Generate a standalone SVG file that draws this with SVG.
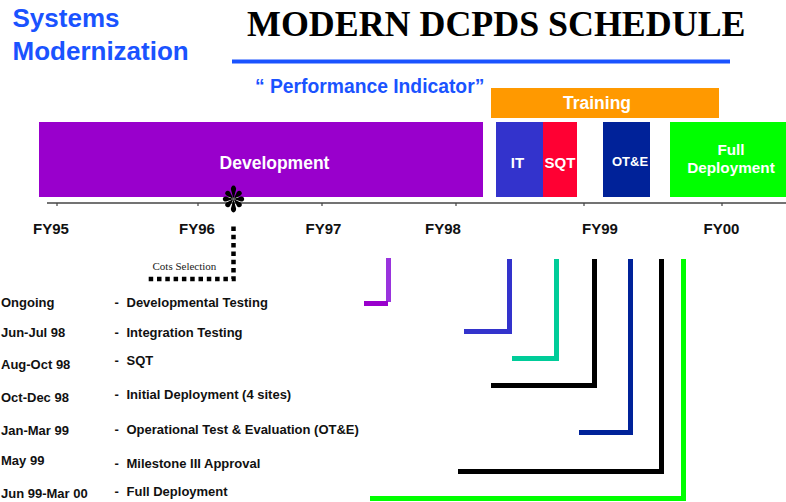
<svg xmlns="http://www.w3.org/2000/svg" xmlns:xlink="http://www.w3.org/1999/xlink" width="786" height="502" viewBox="0 0 786 502">
  <style>
    .sans { font-family: "Liberation Sans", Arial, sans-serif; font-weight: bold; }
    .blue { fill: #1A53FF; }
    .white { fill: #FFFFFF; }
    .fy { font-family: "Liberation Sans", Arial, sans-serif; font-weight: bold; font-size: 15px; fill: #111; text-anchor: middle; }
    .row { font-family: "Liberation Sans", Arial, sans-serif; font-weight: bold; font-size: 13px; fill: #111; }
    .mid { text-anchor: middle; }
    .tick { stroke: #444; stroke-width: 1.2; }
    .conn { fill: none; stroke-width: 5; stroke-linejoin: miter; }
  </style>
  <defs>
    <path id="spoke" d="M0,0 L-2.5,-7.4 A2.6,2.6 0 1 1 2.5,-7.4 Z" fill="#000"/>
  </defs>

  <rect width="786" height="502" fill="#FFFFFF"/>

  <!-- heading -->
  <g id="heading">
    <text class="sans blue" x="12.5" y="27" font-size="26">Systems</text>
    <text class="sans blue" x="12.5" y="60" font-size="26">Modernization</text>
    <text x="247" y="36" font-family="'Liberation Serif', 'Times New Roman', serif" font-weight="bold" font-size="35.9" fill="#000">MODERN DCPDS SCHEDULE</text>
    <rect x="232" y="59.5" width="498" height="4" fill="#1A53FF"/>
    <text class="sans blue" x="255" y="92.5" font-size="19.3">“ Performance Indicator”</text>
  </g>

  <!-- phase bars -->
  <g id="training">
    <rect x="491" y="88" width="228" height="30" fill="#FF9900"/>
    <text class="sans white mid" x="597" y="108.5" font-size="17.5">Training</text>
  </g>
  <g id="development">
    <rect x="39" y="122" width="444" height="75" fill="#9900CC"/>
    <text class="sans white mid" x="274.5" y="169" font-size="17.5">Development</text>
  </g>
  <g id="it">
    <rect x="496" y="122" width="47" height="75" fill="#3333CC"/>
    <text class="sans white mid" x="517.5" y="168" font-size="15">IT</text>
  </g>
  <g id="sqt">
    <rect x="543" y="122" width="34" height="75" fill="#FF0033"/>
    <text class="sans white mid" x="560" y="168" font-size="15">SQT</text>
  </g>
  <g id="ote">
    <rect x="603" y="122" width="47" height="75" fill="#002299"/>
    <text class="sans white mid" x="630" y="166" font-size="13">OT&amp;E</text>
  </g>
  <g id="full-deployment">
    <rect x="670" y="122" width="116" height="75" fill="#00FF00"/>
    <text class="sans white mid" x="731" y="155" font-size="15.3">Full</text>
    <text class="sans white mid" x="731" y="173" font-size="15.3">Deployment</text>
  </g>

  <!-- fiscal year axis -->
  <g id="axis">
    <line x1="47" y1="203" x2="786" y2="203" stroke="#444" stroke-width="1.5"/>
    <line class="tick" x1="57" y1="203" x2="57" y2="206"/>
    <line class="tick" x1="198" y1="203" x2="198" y2="206"/>
    <line class="tick" x1="322" y1="203" x2="322" y2="206"/>
    <line class="tick" x1="456" y1="203" x2="456" y2="206"/>
    <line class="tick" x1="584" y1="203" x2="584" y2="206"/>
    <line class="tick" x1="722" y1="203" x2="722" y2="206"/>
    <text class="fy" x="51" y="234">FY95</text>
    <text class="fy" x="197" y="234">FY96</text>
    <text class="fy" x="323.5" y="234">FY97</text>
    <text class="fy" x="443" y="234">FY98</text>
    <text class="fy" x="600" y="234">FY99</text>
    <text class="fy" x="721.5" y="234">FY00</text>
  </g>

  <!-- COTS selection milestone -->
  <g id="cots-selection">
    <g transform="translate(233.5,199)">
      <use xlink:href="#spoke" transform="scale(1,1.25)"/>
      <use xlink:href="#spoke" transform="rotate(45)"/>
      <use xlink:href="#spoke" transform="rotate(90)"/>
      <use xlink:href="#spoke" transform="rotate(135)"/>
      <use xlink:href="#spoke" transform="rotate(180) scale(1,1.25)"/>
      <use xlink:href="#spoke" transform="rotate(225)"/>
      <use xlink:href="#spoke" transform="rotate(270)"/>
      <use xlink:href="#spoke" transform="rotate(315)"/>
    </g>
    <path d="M233.5,226.5 V279 H145" fill="none" stroke="#000" stroke-width="4.5" stroke-dasharray="4.5 3.8"/>
    <text x="152.5" y="270" font-family="'Liberation Serif', 'Times New Roman', serif" font-size="11" fill="#222">Cots Selection</text>
  </g>

  <!-- event list -->
  <g id="events">
    <text class="row" x="1" y="307">Ongoing</text>
    <text class="row" x="114.5" y="307">-</text>
    <text class="row" x="126.5" y="307">Developmental Testing</text>

    <text class="row" x="1" y="337">Jun-Jul 98</text>
    <text class="row" x="114.5" y="337">-</text>
    <text class="row" x="126.5" y="337">Integration Testing</text>

    <text class="row" x="1" y="369">Aug-Oct 98</text>
    <text class="row" x="114.5" y="365">-</text>
    <text class="row" x="126.5" y="365">SQT</text>

    <text class="row" x="1" y="401.5">Oct-Dec 98</text>
    <text class="row" x="114.5" y="399">-</text>
    <text class="row" x="126.5" y="399">Initial Deployment (4 sites)</text>

    <text class="row" x="1" y="434.5">Jan-Mar 99</text>
    <text class="row" x="114.5" y="433.5">-</text>
    <text class="row" x="126.5" y="433.5">Operational Test &amp; Evaluation (OT&amp;E)</text>

    <text class="row" x="1" y="465">May 99</text>
    <text class="row" x="114.5" y="468">-</text>
    <text class="row" x="126.5" y="468">Milestone III Approval</text>

    <text class="row" x="1" y="497.5">Jun 99-Mar 00</text>
    <text class="row" x="114.5" y="496">-</text>
    <text class="row" x="126.5" y="496">Full Deployment</text>
  </g>

  <!-- connectors from the timeline down to the events -->
  <g id="connectors">
    <line x1="388.5" y1="258" x2="388.5" y2="302" stroke="#9933DD" stroke-width="5"/>
    <line x1="364" y1="303.5" x2="388" y2="303.5" stroke="#9900CC" stroke-width="5"/>
    <path class="conn" stroke="#3333CC" d="M509.5,259 V331.5 H464"/>
    <path class="conn" stroke="#00CC99" d="M556.5,259 V358.5 H512"/>
    <path class="conn" stroke="#000000" d="M594.5,259 V385.5 H491"/>
    <path class="conn" stroke="#002299" d="M630.5,259 V432.5 H579"/>
    <path class="conn" stroke="#000000" d="M661.5,259 V471.5 H458"/>
    <path class="conn" stroke="#00FF00" d="M683.5,259 V498.5 H370"/>
  </g>
</svg>
